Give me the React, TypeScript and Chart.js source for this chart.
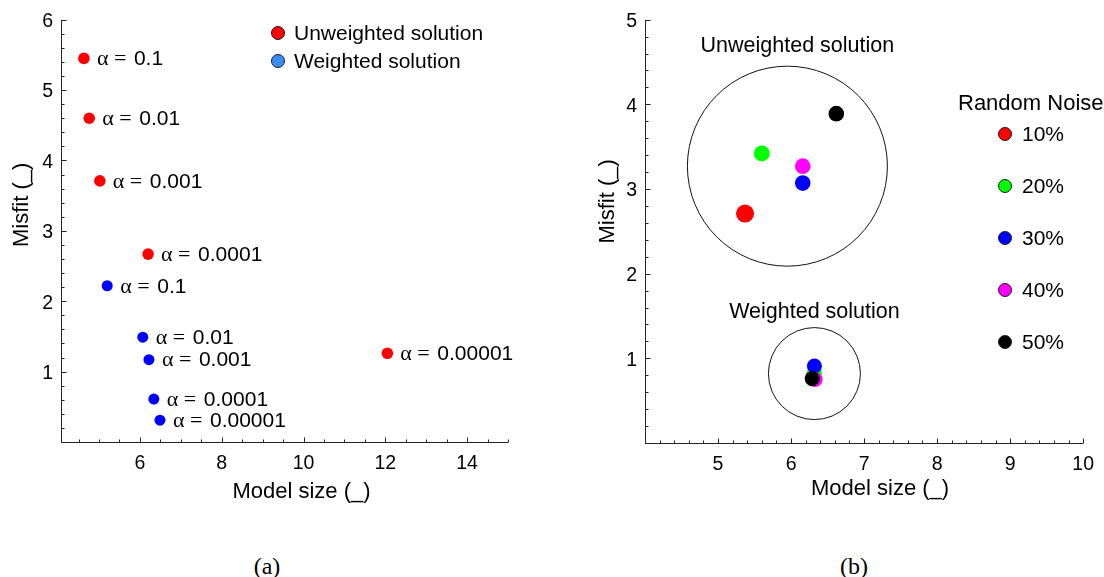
import React, { useEffect, useRef } from "react";
import { Chart, registerables } from "chart.js";

Chart.register(...registerables);

const SANS = '"Liberation Sans", Arial, Helvetica, sans-serif';
const SERIF = '"Liberation Serif", "Times New Roman", serif';

// ---------- panel (a): misfit vs model size for several regularisation weights ----------
const alphaLabels = ["0.1", "0.01", "0.001", "0.0001", "0.00001"];
const unweightedSize = [4.63, 4.76, 5.02, 6.2, 12.05];
const unweightedMisfit = [5.45, 4.6, 3.71, 2.67, 1.26];
const weightedSize = [5.2, 6.07, 6.22, 6.34, 6.49];
const weightedMisfit = [2.22, 1.49, 1.17, 0.61, 0.31];
const xTicksA = [6, 8, 10, 12, 14];
const yTicksA = [1, 2, 3, 4, 5, 6];

// ---------- panel (b): solutions for increasing random noise ----------
const noiseLevels = ["10%", "20%", "30%", "40%", "50%"];
const noiseColors = ["#ff0000", "#00ff00", "#0000ff", "#ff00ff", "#000000"];
const noiseUnweightedSize = [5.37, 5.6, 6.16, 6.16, 6.62];
const noiseUnweightedMisfit = [2.71, 3.42, 3.07, 3.27, 3.89];
const noiseWeightedSize = [6.31, 6.32, 6.32, 6.33, 6.29];
const noiseWeightedMisfit = [0.8, 0.83, 0.91, 0.75, 0.76];
const clusterSize = [5.95, 6.32];
const clusterMisfit = [3.27, 0.82];
const clusterNames = ["Unweighted solution", "Weighted solution"];
const xTicksB = [5, 6, 7, 8, 9, 10];
const yTicksB = [1, 2, 3, 4, 5];

type AxisCfg = {
  xMinor: number;
  yMinor: number;
  xMajor: number[];
  yMajor: number[];
  xTitleDx: number;
  xTitleY: number;
  yTitleX: number;
  yTitleDy: number;
};

// Box-less axes with inward major/minor ticks and titles
function axesPlugin(cfg: AxisCfg) {
  return {
    id: "inwardAxes",
    afterDraw(chart: any) {
      const { ctx, chartArea: a, scales } = chart;
      const xs = scales.x;
      const ys = scales.y;
      const L = Math.round(a.left) + 0.5;
      const B = Math.round(a.bottom) + 0.5;
      ctx.save();
      ctx.strokeStyle = "#222";
      ctx.lineWidth = 1;
      ctx.beginPath();
      ctx.moveTo(L, Math.round(a.top));
      ctx.lineTo(L, B);
      ctx.lineTo(Math.round(a.right), B);

      const near = (v: number, list: number[]) => list.some((m) => Math.abs(m - v) < 1e-6);
      const xStart = Math.ceil(xs.min / cfg.xMinor - 1e-6) * cfg.xMinor;
      const nx = Math.floor((xs.max - xStart) / cfg.xMinor + 1e-6);
      for (let i = 0; i <= nx; i++) {
        const v = xStart + i * cfg.xMinor;
        const px = Math.round(xs.getPixelForValue(v)) + 0.5;
        const len = near(v, cfg.xMajor) ? 5 : 3;
        ctx.moveTo(px, B);
        ctx.lineTo(px, B - len);
      }
      const yStart = Math.ceil(ys.min / cfg.yMinor - 1e-6) * cfg.yMinor;
      const ny = Math.floor((ys.max - yStart) / cfg.yMinor + 1e-6);
      for (let i = 0; i <= ny; i++) {
        const v = yStart + i * cfg.yMinor;
        const py = Math.round(ys.getPixelForValue(v)) + 0.5;
        const len = near(v, cfg.yMajor) ? 5 : 3;
        ctx.moveTo(L, py);
        ctx.lineTo(L + len, py);
      }
      ctx.stroke();

      ctx.fillStyle = "#000";
      ctx.font = `22px ${SANS}`;
      ctx.textAlign = "center";
      ctx.textBaseline = "middle";
      ctx.fillText("Model size (_)", (a.left + a.right) / 2 + cfg.xTitleDx, cfg.xTitleY);
      ctx.translate(cfg.yTitleX, (a.top + a.bottom) / 2 + cfg.yTitleDy);
      ctx.rotate(-Math.PI / 2);
      ctx.fillText("Misfit (_)", 0, 0);
      ctx.restore();
    },
  };
}

function legendDot(ctx: CanvasRenderingContext2D, x: number, y: number, r: number, fill: string) {
  ctx.beginPath();
  ctx.arc(x, y, r, 0, Math.PI * 2);
  ctx.fillStyle = fill;
  ctx.fill();
  ctx.lineWidth = 1;
  ctx.strokeStyle = "#1a1a1a";
  ctx.stroke();
}

function baseScales(
  xMin: number,
  xMax: number,
  yMin: number,
  yMax: number,
  xTicks: number[],
  yTicks: number[],
  yWidth: number,
  xHeight: number
) {
  const tickFont = { family: SANS, size: 19.5 };
  return {
    x: {
      type: "linear",
      min: xMin,
      max: xMax,
      grid: { display: false, drawTicks: false },
      border: { display: false },
      ticks: { font: tickFont, color: "#000", padding: 10, autoSkip: false, maxRotation: 0 },
      afterBuildTicks: (s: any) => {
        s.ticks = xTicks.map((v) => ({ value: v }));
      },
      afterFit: (s: any) => {
        s.height = xHeight;
      },
    },
    y: {
      type: "linear",
      min: yMin,
      max: yMax,
      grid: { display: false, drawTicks: false },
      border: { display: false },
      ticks: { font: tickFont, color: "#000", padding: 8, labelOffset: 2, autoSkip: false },
      afterBuildTicks: (s: any) => {
        s.ticks = yTicks.map((v) => ({ value: v }));
      },
      afterFit: (s: any) => {
        s.width = yWidth;
      },
    },
  };
}

function buildPanelA(): any {
  const annotate = {
    id: "alphaLabels",
    afterDatasetsDraw(chart: any) {
      const ctx: CanvasRenderingContext2D = chart.ctx;
      ctx.save();
      ctx.fillStyle = "#000";
      ctx.textAlign = "left";
      ctx.textBaseline = "middle";
      [0, 1].forEach((di) => {
        chart.getDatasetMeta(di).data.forEach((pt: any, j: number) => {
          const x0 = pt.x + 13;
          const y = pt.y + 1;
          ctx.font = `22px ${SERIF}`;
          ctx.fillText("\u03b1", x0, y);
          ctx.fillText("=", x0 + 17, y);
          ctx.font = `21px ${SANS}`;
          ctx.fillText(alphaLabels[j], x0 + 37, y);
        });
      });
      // legend
      const a = chart.chartArea;
      const lx = a.left + 217;
      const entries = [
        { name: "Unweighted solution", color: "#ff0000", y: 33 },
        { name: "Weighted solution", color: "#3a8cf5", y: 61 },
      ];
      entries.forEach((e) => {
        legendDot(ctx, lx, e.y, 6.5, e.color);
        ctx.fillStyle = "#000";
        ctx.font = `21px ${SANS}`;
        ctx.fillText(e.name, lx + 16, e.y + 1);
      });
      ctx.restore();
    },
  };

  return {
    type: "scatter",
    data: {
      datasets: [
        {
          label: "Unweighted solution",
          data: unweightedSize.map((x, i) => ({ x, y: unweightedMisfit[i] })),
          backgroundColor: "#ff0000",
          borderWidth: 0,
          pointRadius: 5.8,
        },
        {
          label: "Weighted solution",
          data: weightedSize.map((x, i) => ({ x, y: weightedMisfit[i] })),
          backgroundColor: "#0000ff",
          borderWidth: 0,
          pointRadius: 5.5,
        },
      ],
    },
    options: {
      responsive: false,
      animation: false,
      events: [],
      layout: { autoPadding: false, padding: { top: 18, right: 52, left: 0, bottom: 0 } },
      plugins: { legend: { display: false }, tooltip: { enabled: false } },
      scales: baseScales(4.07, 15, 0, 6, xTicksA, yTicksA, 61, 78),
    },
    plugins: [
      annotate,
      axesPlugin({
        xMinor: 0.5,
        yMinor: 0.2,
        xMajor: xTicksA,
        yMajor: yTicksA,
        xTitleDx: 17,
        xTitleY: 492,
        yTitleX: 22,
        yTitleDy: -26,
      }),
    ],
  };
}

function buildPanelB(): any {
  const annotate = {
    id: "noiseLegend",
    afterDatasetsDraw(chart: any) {
      const ctx: CanvasRenderingContext2D = chart.ctx;
      ctx.save();
      ctx.fillStyle = "#000";
      ctx.textBaseline = "middle";
      // cluster captions above each enclosing circle
      const ring = chart.getDatasetMeta(5).data;
      const radii = [99, 46];
      const dx = [10, 0];
      const gap = [21, 16];
      ring.forEach((pt: any, i: number) => {
        ctx.font = `21.5px ${SANS}`;
        ctx.textAlign = "center";
        ctx.fillStyle = "#000";
        ctx.fillText(clusterNames[i], pt.x + dx[i], pt.y - radii[i] - gap[i]);
      });
      // noise legend
      const a = chart.chartArea;
      ctx.textAlign = "left";
      ctx.font = `22px ${SANS}`;
      ctx.fillText("Random Noise", a.left + 313, 104);
      noiseLevels.forEach((lvl, i) => {
        const y = 134 + i * 52;
        legendDot(ctx, a.left + 360, y, 6.5, noiseColors[i]);
        ctx.fillStyle = "#000";
        ctx.font = `21px ${SANS}`;
        ctx.fillText(lvl, a.left + 377, y + 1);
      });
      ctx.restore();
    },
  };

  const noiseSets = noiseLevels.map((lvl, i) => ({
    label: lvl,
    data: [
      { x: noiseUnweightedSize[i], y: noiseUnweightedMisfit[i] },
      { x: noiseWeightedSize[i], y: noiseWeightedMisfit[i] },
    ],
    backgroundColor: noiseColors[i],
    borderWidth: 0,
    pointRadius: i === 0 ? [9, 7.5] : i === 1 ? [8, 7.5] : [7.8, 7.5],
    order: noiseLevels.length - 1 - i,
  }));

  return {
    type: "scatter",
    data: {
      datasets: [
        ...noiseSets,
        {
          label: "clusters",
          data: clusterSize.map((x, i) => ({ x, y: clusterMisfit[i] })),
          backgroundColor: "rgba(0,0,0,0)",
          borderColor: "#111",
          borderWidth: 1,
          pointRadius: [100, 46],
          order: 20,
        },
      ],
    },
    options: {
      responsive: false,
      animation: false,
      events: [],
      layout: { autoPadding: false, padding: { top: 18, right: 17, left: 0, bottom: 0 } },
      plugins: { legend: { display: false }, tooltip: { enabled: false } },
      scales: baseScales(4, 10, 0, 5, xTicksB, yTicksB, 85, 77),
    },
    plugins: [
      annotate,
      axesPlugin({
        xMinor: 0.2,
        yMinor: 0.2,
        xMajor: xTicksB,
        yMajor: yTicksB,
        xTitleDx: 16,
        xTitleY: 489,
        yTitleX: 48,
        yTitleDy: -30,
      }),
    ],
  };
}

function ChartCanvas({ left, width, height, build }: { left: number; width: number; height: number; build: () => any }) {
  const ref = useRef<HTMLCanvasElement>(null);
  useEffect(() => {
    const chart = new Chart(ref.current as HTMLCanvasElement, build());
    return () => chart.destroy();
  }, []);
  return (
    <canvas
      ref={ref}
      width={width}
      height={height}
      style={{ position: "absolute", left, top: 0, width, height }}
    />
  );
}

const captionStyle: React.CSSProperties = {
  position: "absolute",
  top: 551,
  width: 60,
  textAlign: "center",
  fontFamily: SERIF,
  fontSize: 24,
  lineHeight: "30px",
  color: "#000",
};

export default function App() {
  return (
    <div
      style={{
        position: "absolute",
        left: 0,
        top: 0,
        width: 1104,
        height: 577,
        background: "#fff",
        overflow: "hidden",
      }}
    >
      <ChartCanvas left={0} width={560} height={520} build={buildPanelA} />
      <ChartCanvas left={560} width={544} height={520} build={buildPanelB} />
      <div style={{ ...captionStyle, left: 267 - 30 }}>(a)</div>
      <div style={{ ...captionStyle, left: 854 - 30 }}>(b)</div>
    </div>
  );
}
